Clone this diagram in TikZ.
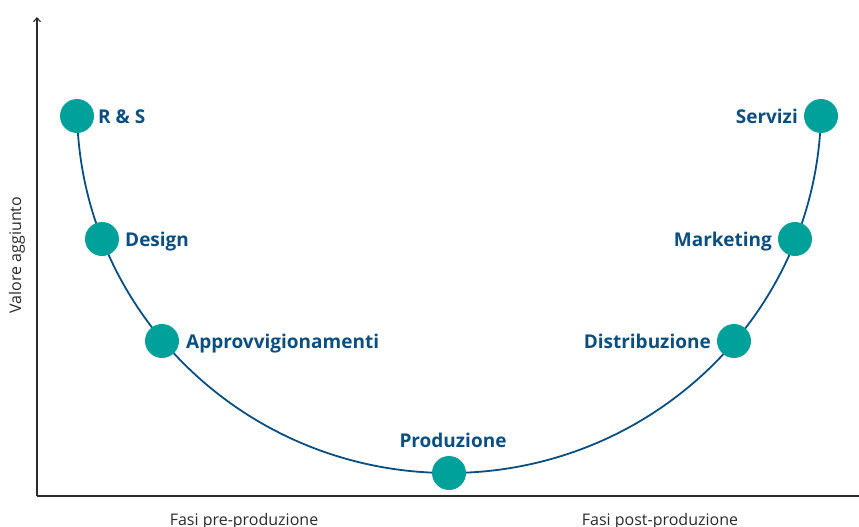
\documentclass[tikz,border=0pt]{standalone}
\usepackage{fontspec}
\setmainfont{Open Sans}
\usetikzlibrary{arrows.meta}
\definecolor{teal1}{HTML}{00A19A}
\definecolor{navy1}{HTML}{0B4F80}
\definecolor{axisgray}{HTML}{2B2B2B}
\begin{document}
\begin{tikzpicture}[x=1pt,y=-1pt,
  dot/.style={circle,fill=teal1,minimum size=34pt,inner sep=0pt},
  lbl/.style={font=\bfseries\fontsize{19}{21}\selectfont,text=navy1,inner sep=0pt},
  axlbl/.style={font=\fontsize{16}{18}\selectfont,text=axisgray,inner sep=0pt},
  axisline/.style={draw=axisgray,line width=1.1pt}]
\useasboundingbox (0,0) rectangle (859,527);
\coordinate (origin) at (37,496);
\coordinate (ytop) at (37,17);
\coordinate (xend) at (859,496);
\draw[axisline,-{Straight Barb[length=4pt,width=7pt]}] (origin) -- (ytop);
\draw[axisline] (origin) -- (xend);
% U-shaped value curve: lower half of an ellipse centred at (449,107)
\coordinate (ustart) at (77,107);
\draw[navy1,line width=1.8pt] (ustart) arc[start angle=180,end angle=360,x radius=372pt,y radius=366pt];
\node[dot] (nrs) at (77,116) {};
\node[dot] (ndesign) at (102,239) {};
\node[dot] (nappr) at (162,341) {};
\node[dot] (nprod) at (449,473) {};
\node[dot] (ndist) at (734,341) {};
\node[dot] (nmkt) at (795,239) {};
\node[dot] (nserv) at (821,116) {};
\node[lbl,anchor=base west] (lrs) at (98,123) {R \& S};
\node[lbl,anchor=base west] (ldesign) at (125,246) {Design};
\node[lbl,anchor=base west] (lappr) at (186,348) {Approvvigionamenti};
\node[lbl,anchor=base] (lprod) at (453,447) {Produzione};
\node[lbl,anchor=base east] (ldist) at (711,348) {Distribuzione};
\node[lbl,anchor=base east] (lmkt) at (772,246) {Marketing};
\node[lbl,anchor=base east] (lserv) at (798,123) {Servizi};
\node[axlbl,rotate=90] (yl) at (17,255) {Valore aggiunto};
\node[axlbl,anchor=base] (xl1) at (244,525) {Fasi pre-produzione};
\node[axlbl,anchor=base] (xl2) at (660,525) {Fasi post-produzione};
\end{tikzpicture}
\end{document}
